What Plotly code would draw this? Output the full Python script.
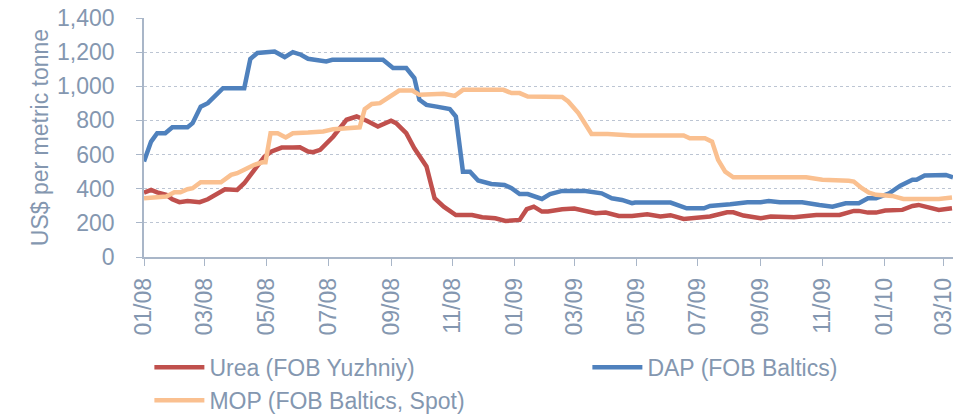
import plotly.graph_objects as go

# Weekly-ish price readings, US$ per metric tonne
urea_dates = ['2008-01-01', '2008-01-08', '2008-01-14', '2008-01-23', '2008-01-29', '2008-02-05',
              '2008-02-13', '2008-02-25', '2008-03-04', '2008-03-14', '2008-03-21', '2008-04-02',
              '2008-04-09', '2008-04-19', '2008-04-29', '2008-05-06', '2008-05-16', '2008-05-27',
              '2008-06-03', '2008-06-11', '2008-06-16', '2008-06-23', '2008-07-06', '2008-07-19',
              '2008-07-29', '2008-08-08', '2008-08-19', '2008-09-01', '2008-09-06', '2008-09-16',
              '2008-09-24', '2008-10-06', '2008-10-14', '2008-10-23', '2008-11-04', '2008-11-20',
              '2008-11-30', '2008-12-13', '2008-12-23', '2009-01-06', '2009-01-13', '2009-01-20',
              '2009-01-28', '2009-02-03', '2009-02-17', '2009-03-01', '2009-03-12', '2009-03-22',
              '2009-04-01', '2009-04-14', '2009-04-27', '2009-05-12', '2009-05-25', '2009-06-04',
              '2009-06-17', '2009-07-13', '2009-07-30', '2009-08-05', '2009-08-15', '2009-09-01',
              '2009-09-11', '2009-10-04', '2009-10-16', '2009-10-26', '2009-11-18', '2009-12-02',
              '2009-12-07', '2009-12-16', '2009-12-24', '2010-01-02', '2010-01-19', '2010-01-29',
              '2010-02-04', '2010-02-12', '2010-02-24', '2010-03-09']
urea = [377, 393, 379, 364, 338, 321,
        328, 321, 338, 377, 397, 393,
        432, 510, 588, 618, 641, 641,
        643, 618, 614, 628, 706, 804,
        823, 798, 764, 798, 784, 725,
        637, 530, 344, 295, 246, 246,
        233, 227, 211, 217, 280, 295,
        266, 266, 280, 284, 272, 256,
        260, 240, 240, 250, 237, 245,
        223, 237, 262, 262, 243, 227,
        237, 233, 240, 246, 246, 270,
        270, 260, 260, 272, 276, 299,
        305, 295, 276, 286]

dap_dates = ['2008-01-01', '2008-01-08', '2008-01-14', '2008-01-22', '2008-01-29', '2008-02-13',
             '2008-02-18', '2008-02-26', '2008-03-04', '2008-03-19', '2008-04-09', '2008-04-15',
             '2008-04-22', '2008-05-09', '2008-05-19', '2008-05-27', '2008-06-04', '2008-06-11',
             '2008-06-29', '2008-07-05', '2008-08-24', '2008-09-03', '2008-09-16', '2008-09-24',
             '2008-09-29', '2008-10-06', '2008-10-16', '2008-10-29', '2008-11-04', '2008-11-11',
             '2008-11-18', '2008-11-26', '2008-12-09', '2008-12-22', '2008-12-29', '2009-01-06',
             '2009-01-14', '2009-01-28', '2009-02-05', '2009-02-17', '2009-03-12', '2009-03-28',
             '2009-04-07', '2009-04-17', '2009-04-27', '2009-04-30', '2009-06-04', '2009-06-20',
             '2009-07-07', '2009-07-13', '2009-08-02', '2009-08-19', '2009-09-01', '2009-09-09',
             '2009-09-20', '2009-10-12', '2009-10-29', '2009-11-11', '2009-11-24', '2009-12-07',
             '2009-12-16', '2009-12-24', '2010-01-06', '2010-01-17', '2010-01-29', '2010-02-02',
             '2010-02-10', '2010-03-03', '2010-03-10']
dap = [559, 676, 725, 725, 760, 760,
       784, 881, 901, 989, 989, 1160,
       1195, 1204, 1171, 1200, 1185, 1161,
       1146, 1155, 1155, 1107, 1107, 1048,
       921, 891, 881, 866, 823, 500,
       500, 448, 428, 422, 403, 369,
       369, 340, 369, 387, 387, 373,
       344, 334, 315, 319, 319, 285,
       285, 299, 309, 321, 321, 328,
       321, 321, 305, 295, 315, 315,
       344, 344, 373, 418, 452, 452,
       477, 481, 467]

mop_dates = ['2008-01-01', '2008-01-14', '2008-01-23', '2008-01-31', '2008-02-06', '2008-02-13',
             '2008-02-18', '2008-02-26', '2008-03-17', '2008-03-27', '2008-04-02', '2008-04-12',
             '2008-04-19', '2008-04-27', '2008-04-30', '2008-05-05', '2008-05-12', '2008-05-20',
             '2008-05-27', '2008-06-11', '2008-06-26', '2008-07-06', '2008-07-29', '2008-08-01',
             '2008-08-06', '2008-08-13', '2008-08-21', '2008-08-28', '2008-09-09', '2008-09-22',
             '2008-09-29', '2008-10-23', '2008-11-03', '2008-11-11', '2008-12-21', '2008-12-29',
             '2009-01-06', '2009-01-14', '2009-02-17', '2009-02-23', '2009-03-05', '2009-03-18',
             '2009-04-03', '2009-04-27', '2009-06-17', '2009-06-23', '2009-07-08', '2009-07-15',
             '2009-07-21', '2009-07-28', '2009-08-05', '2009-10-16', '2009-11-01', '2009-11-27',
             '2009-12-02', '2009-12-10', '2009-12-17', '2009-12-24', '2010-01-09', '2010-01-20',
             '2010-02-24', '2010-03-09']
mop = [344, 348, 354, 379, 379, 397,
       403, 438, 438, 481, 491, 520,
       540, 555, 555, 725, 725, 700,
       725, 729, 735, 749, 760, 760,
       866, 896, 901, 930, 975, 975,
       950, 956, 944, 979, 979, 960,
       960, 940, 937, 911, 843, 721,
       721, 712, 712, 696, 696, 676,
       569, 500, 467, 467, 452, 446,
       442, 403, 377, 364, 358, 340,
       340, 348]

tick_dates = ['2008-01-01', '2008-03-01', '2008-05-01', '2008-07-01', '2008-09-01', '2008-11-01',
              '2009-01-01', '2009-03-01', '2009-05-01', '2009-07-01', '2009-09-01', '2009-11-01',
              '2010-01-01', '2010-03-01']

TEXT = '#8497B0'
AXIS = '#A9B6C8'
FONT = 'Liberation Sans, Arial, sans-serif'

fig = go.Figure()
fig.add_trace(go.Scatter(x=urea_dates, y=urea, mode='lines', name='Urea (FOB Yuzhniy)',
                         line=dict(color='#C0504D', width=4.5)))
fig.add_trace(go.Scatter(x=dap_dates, y=dap, mode='lines', name='DAP (FOB Baltics)',
                         line=dict(color='#4F81BD', width=4.5)))
fig.add_trace(go.Scatter(x=mop_dates, y=mop, mode='lines', name='MOP (FOB Baltics, Spot)',
                         line=dict(color='#FAC090', width=4.5)))

# page body adds an 8px offset, so the figure is drawn 8px smaller each way
fig.update_layout(
    width=958, height=411,
    paper_bgcolor='white', plot_bgcolor='white',
    font=dict(family=FONT, size=23, color=TEXT),
    margin=dict(l=136, r=13, t=10, b=162, autoexpand=False),
    showlegend=True,
    legend=dict(orientation='h', x=-0.002, xanchor='left', y=-0.372, yanchor='top',
                entrywidth=366, itemwidth=50, indentation=7,
                font=dict(size=23, color=TEXT), bgcolor='rgba(0,0,0,0)'),
)
fig.update_xaxes(
    type='date', range=['2008-01-01', '2010-03-10'],
    tickvals=tick_dates, tickformat='%m/%y', tickangle=-90,
    showgrid=False, showline=True, linecolor=AXIS, linewidth=1.5,
    ticks='outside', ticklen=7, tickcolor=AXIS, ticklabelstandoff=3,
    tickfont=dict(size=23, color=TEXT), automargin=False,
)
fig.update_yaxes(
    range=[0, 1400], dtick=200, tickformat=',',
    showgrid=True, gridcolor='#BCC5D3', griddash='dot', gridwidth=1,
    showline=True, linecolor=AXIS, linewidth=1.5,
    ticks='outside', ticklen=6, tickcolor=AXIS, ticklabelstandoff=17,
    ticklabeloverflow='allow',
    zeroline=False, automargin=False,
    title=dict(text='US$ per metric tonne', standoff=2, font=dict(size=23, color=TEXT)),
    tickfont=dict(size=23, color=TEXT),
)

fig.write_html('out.html')
